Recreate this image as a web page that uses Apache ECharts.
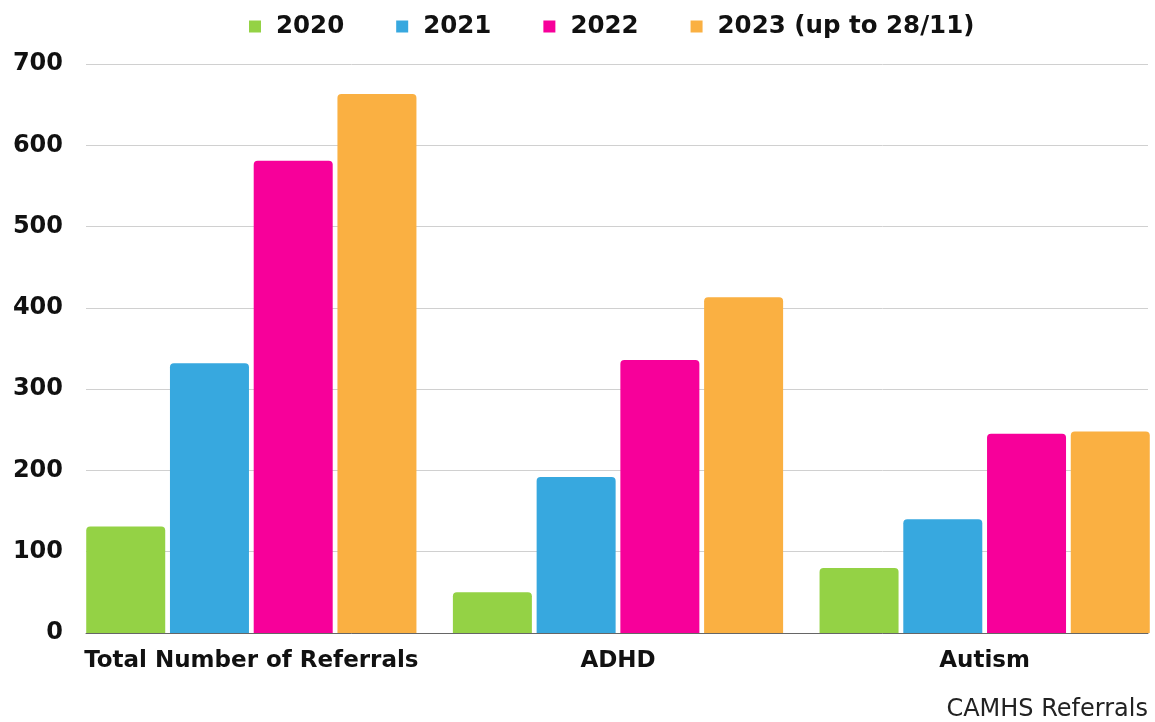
<!DOCTYPE html>
<html>
<head>
<meta charset="utf-8">
<script src="https://cdn.jsdelivr.net/npm/echarts@6/dist/echarts.min.js"></script>
<style>
  html, body { margin: 0; padding: 0; background: #fff; overflow: hidden; }
  /* a bit wider than the window: the last group sits at the right edge, as in the original crop */
  #main { width: 1175px; height: 722px; }
</style>
</head>
<body>
<div id="main"></div>
<script>
// CAMHS referrals by year
var categories = ['Total Number of Referrals', 'ADHD', 'Autism'];
var years = ['2020', '2021', '2022', '2023 (up to 28/11)'];
var values2020 = [131, 50, 80];
var values2021 = [332, 192, 140];
var values2022 = [581, 336, 245];
var values2023 = [663, 413, 248];
var colors = ['#94d245', '#37a8df', '#f7009a', '#fab042'];

var allValues = [values2020, values2021, values2022, values2023];
var boldFont = '"DejaVu Sans", sans-serif';

var chart = echarts.init(document.getElementById('main'));

var series = [];
for (var i = 0; i < years.length; i++) {
    series.push({
        name: years[i],
        type: 'bar',
        xAxisIndex: 1,
        yAxisIndex: 1,
        data: allValues[i],
        barWidth: 79,
        barGap: '6%',
        itemStyle: { color: colors[i], borderRadius: [4, 4, 0, 0] }
    });
}

var option = {
    animation: false,
    color: colors,
    title: {
        text: 'CAMHS Referrals',
        right: 27,
        bottom: 0,
        padding: 0,
        textStyle: { fontFamily: boldFont, fontSize: 24, fontWeight: 'normal', color: '#222' }
    },
    legend: {
        data: years,
        top: 9,
        left: 244,
        icon: 'rect',
        itemWidth: 12,
        itemHeight: 12,
        itemGap: 52,
        textStyle: {
            fontFamily: boldFont, fontSize: 24.5, fontWeight: 'bold', color: '#111',
            padding: [0, 0, 0, 10]
        }
    },
    grid: [
        // gridlines + y labels
        { left: 86, right: 27, top: 64, bottom: 89, containLabel: false },
        // bars + category labels
        { left: 68, right: 7, top: 64, bottom: 89, containLabel: false }
    ],
    xAxis: [
        {
            gridIndex: 0,
            type: 'category',
            data: categories,
            axisLine: { show: true, lineStyle: { color: '#666', width: 1 } },
            axisTick: { show: false },
            axisLabel: { show: false }
        },
        {
            gridIndex: 1,
            type: 'category',
            data: categories,
            axisLine: { show: false },
            axisTick: { show: false },
            axisLabel: {
                interval: 0,
                margin: 17,
                fontFamily: boldFont, fontSize: 23, fontWeight: 'bold', color: '#111'
            }
        }
    ],
    yAxis: [
        {
            gridIndex: 0,
            type: 'value',
            min: 0,
            max: 700,
            interval: 100,
            axisLine: { show: false },
            axisTick: { show: false },
            splitLine: { lineStyle: { color: '#d0d0d0', width: 1 } },
            axisLabel: {
                margin: 23,
                padding: [7, 0, 0, 0],
                fontFamily: boldFont, fontSize: 24, fontWeight: 'bold', color: '#111'
            }
        },
        {
            gridIndex: 1,
            type: 'value',
            min: 0,
            max: 700,
            interval: 100,
            show: false
        }
    ],
    series: series
};

chart.setOption(option);
</script>
</body>
</html>
